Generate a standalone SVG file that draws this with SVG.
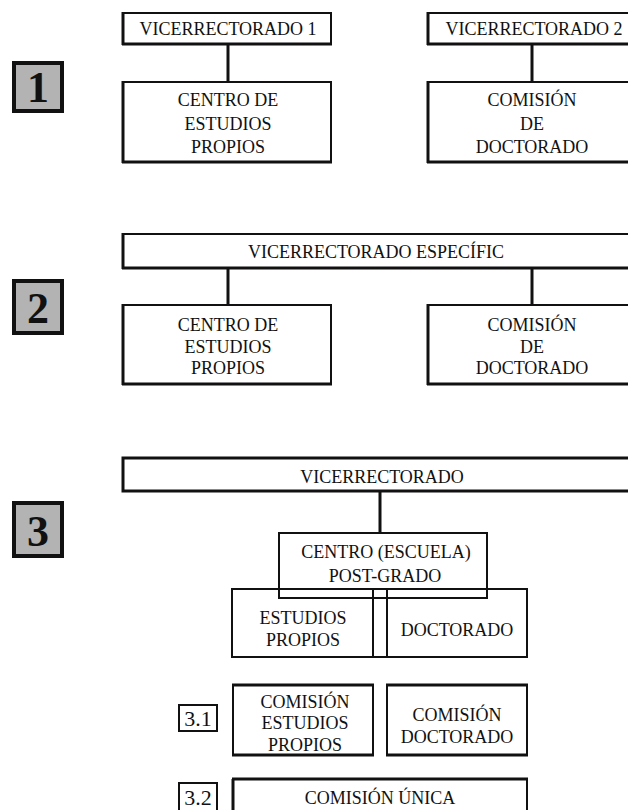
<svg xmlns="http://www.w3.org/2000/svg" width="628" height="810" viewBox="0 0 628 810">
<style>
text{font-family:"Liberation Serif","Times New Roman",serif;fill:#111;text-anchor:middle}
.t{font-size:18px}
.box{fill:none;stroke:#111;stroke-width:2}
.thk{stroke:#111;stroke-width:3}
.badge{fill:#b3b3b3;stroke:#111;stroke-width:4}
.num{font-size:44px;font-weight:bold}
.sb{fill:#fff;stroke:#111;stroke-width:2}
.sn{font-size:22px}
.con{stroke:#111;stroke-width:3;fill:none}
</style>
<rect width="628" height="810" fill="#fff"/>

<g id="connectors">
<line class="con" x1="228" y1="44" x2="228" y2="82"/>
<line class="con" x1="532" y1="44" x2="532" y2="82"/>
<line class="con" x1="228" y1="269" x2="228" y2="305"/>
<line class="con" x1="532" y1="269" x2="532" y2="305"/>
<line class="con" x1="380" y1="491" x2="380" y2="533"/>
</g>

<!-- Section 1 -->
<g id="badge1"><rect class="badge" x="14" y="63" width="48" height="48"/><text class="num" x="38" y="102">1</text></g>
<g id="vice1">
<rect class="box" x="123" y="13" width="208" height="31"/>
<line class="thk" x1="123" y1="12" x2="123" y2="45"/><line class="thk" x1="122" y1="44" x2="332" y2="44"/>
<text class="t" x="228" y="35">VICERRECTORADO 1</text></g>
<g id="centro1">
<rect class="box" x="123" y="82" width="208" height="80"/>
<line class="thk" x1="123" y1="81" x2="123" y2="163"/><line class="thk" x1="122" y1="162" x2="332" y2="162"/>
<text class="t" x="228" y="106">CENTRO DE</text><text class="t" x="228" y="130">ESTUDIOS</text><text class="t" x="228" y="153">PROPIOS</text></g>
<g id="vice2">
<rect class="box" x="428" y="13" width="215" height="31"/>
<line class="thk" x1="428" y1="12" x2="428" y2="45"/><line class="thk" x1="427" y1="44" x2="640" y2="44"/>
<text class="t" x="534" y="35">VICERRECTORADO 2</text></g>
<g id="comision1">
<rect class="box" x="428" y="82" width="215" height="80"/>
<line class="thk" x1="428" y1="81" x2="428" y2="163"/><line class="thk" x1="427" y1="162" x2="640" y2="162"/>
<text class="t" x="532" y="106">COMISIÓN</text><text class="t" x="532" y="130">DE</text><text class="t" x="532" y="153">DOCTORADO</text></g>

<!-- Section 2 -->
<g id="badge2"><rect class="badge" x="14" y="281" width="48" height="52"/><text class="num" x="38" y="323">2</text></g>
<g id="vice-esp">
<rect class="box" x="123" y="234" width="520" height="34"/>
<line class="thk" x1="123" y1="233" x2="123" y2="269"/><line class="thk" x1="122" y1="268" x2="640" y2="268"/>
<text class="t" x="376" y="258">VICERRECTORADO ESPECÍFIC</text></g>
<g id="centro2">
<rect class="box" x="123" y="305" width="208" height="79"/>
<line class="thk" x1="123" y1="304" x2="123" y2="385"/><line class="thk" x1="122" y1="384" x2="332" y2="384"/>
<text class="t" x="228" y="331">CENTRO DE</text><text class="t" x="228" y="353">ESTUDIOS</text><text class="t" x="228" y="374">PROPIOS</text></g>
<g id="comision2">
<rect class="box" x="428" y="305" width="215" height="79"/>
<line class="thk" x1="428" y1="304" x2="428" y2="385"/><line class="thk" x1="427" y1="384" x2="640" y2="384"/>
<text class="t" x="532" y="331">COMISIÓN</text><text class="t" x="532" y="353">DE</text><text class="t" x="532" y="374">DOCTORADO</text></g>

<!-- Section 3 -->
<g id="badge3"><rect class="badge" x="14" y="503" width="48" height="53"/><text class="num" x="38" y="546">3</text></g>
<g id="vice3">
<rect class="box" x="123" y="458" width="520" height="33" style="stroke-width:3"/>
<text class="t" x="382" y="483">VICERRECTORADO</text></g>
<g id="postgrado">
<rect class="box" x="279" y="533" width="208" height="65"/>
<text class="t" x="386" y="558">CENTRO (ESCUELA)</text><text class="t" x="385" y="582">POST-GRADO</text></g>
<g id="estudios-doctorado">
<rect class="box" x="232" y="589" width="295" height="68"/>
<line class="box" x1="373" y1="589" x2="373" y2="657"/><line class="box" x1="387" y1="589" x2="387" y2="657"/>
<text class="t" x="303" y="624">ESTUDIOS</text><text class="t" x="303" y="646">PROPIOS</text>
<text class="t" x="457" y="636">DOCTORADO</text></g>

<!-- 3.1 -->
<g id="badge31"><rect class="sb" x="179" y="705" width="38" height="26"/><text class="sn" x="198" y="726">3.1</text></g>
<g id="com-estudios">
<rect class="box" x="233" y="685" width="140" height="70"/>
<line class="thk" x1="232" y1="685" x2="374" y2="685"/><line class="thk" x1="232" y1="755" x2="374" y2="755"/>
<text class="t" x="305" y="708">COMISIÓN</text><text class="t" x="305" y="729">ESTUDIOS</text><text class="t" x="305" y="751">PROPIOS</text></g>
<g id="com-doctorado">
<rect class="box" x="387" y="685" width="140" height="70"/>
<line class="thk" x1="386" y1="685" x2="528" y2="685"/><line class="thk" x1="386" y1="755" x2="528" y2="755"/>
<text class="t" x="457" y="721">COMISIÓN</text><text class="t" x="457" y="743">DOCTORADO</text></g>

<!-- 3.2 -->
<g id="badge32"><rect class="sb" x="179" y="783" width="38" height="30"/><text class="sn" x="198" y="805">3.2</text></g>
<g id="com-unica">
<rect class="box" x="233" y="779" width="294" height="40"/>
<line class="thk" x1="232" y1="779" x2="528" y2="779"/><line class="thk" x1="233" y1="779" x2="233" y2="812"/>
<text class="t" x="380" y="804">COMISIÓN ÚNICA</text></g>
</svg>
